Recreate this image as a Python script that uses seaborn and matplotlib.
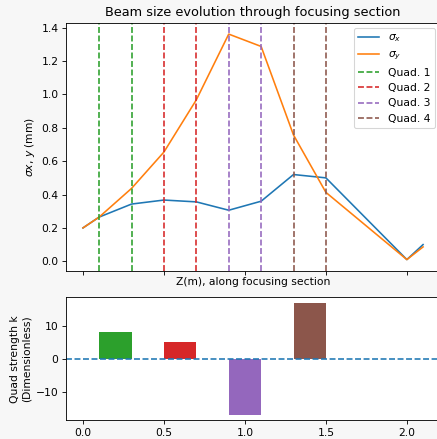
import numpy as np
import pandas as pd
import matplotlib
matplotlib.use("Agg")
import matplotlib.pyplot as plt
import seaborn as sns

# Data
z = [0.0, 0.1, 0.3, 0.5, 0.7, 0.9, 1.1, 1.3, 1.5, 2.0, 2.1]
sigma_x = [0.20, 0.265, 0.343, 0.367, 0.356, 0.306, 0.360, 0.520, 0.500, 0.010, 0.100]
sigma_y = [0.20, 0.265, 0.437, 0.655, 0.968, 1.362, 1.288, 0.757, 0.413, 0.010, 0.086]
quad_names = ["Quad. 1", "Quad. 2", "Quad. 3", "Quad. 4"]
quad_start = [0.1, 0.5, 0.9, 1.3]
quad_end = [0.3, 0.7, 1.1, 1.5]
quad_k = [8.0, 5.0, -16.7, 16.8]
quad_colors = ["tab:green", "tab:red", "tab:purple", "tab:brown"]

DPI = 77
fig = plt.figure(figsize=(437 / DPI, 439 / DPI), dpi=DPI, facecolor="#f7f7f7")
ax1 = fig.add_axes([0.151, 0.383, 0.856, 0.565])
ax2 = fig.add_axes([0.151, 0.0424, 0.856, 0.2806], sharex=ax1)

df = pd.DataFrame({"z": z, "sx": sigma_x, "sy": sigma_y})
sns.lineplot(data=df, x="z", y="sx", ax=ax1, color="C0", label=r"$\sigma_x$")
sns.lineplot(data=df, x="z", y="sy", ax=ax1, color="C1", label=r"$\sigma_y$")
for name, s, e, c in zip(quad_names, quad_start, quad_end, quad_colors):
    ax1.axvline(s, color=c, linestyle="--", label=name)
    ax1.axvline(e, color=c, linestyle="--")
ax1.legend(loc="upper right")
ax1.set_title("Beam size evolution through focusing section")
ax1.set_ylabel(r"$\sigma x$, $y$ (mm)")
ax1.set_xlabel("Z(m), along focusing section")
ax1.tick_params(axis="x", labelbottom=False)
ax1.xaxis.labelpad = 2

centers = [(s + e) / 2 for s, e in zip(quad_start, quad_end)]
widths = [e - s for s, e in zip(quad_start, quad_end)]
ax2.bar(centers, quad_k, width=widths, color=quad_colors)
ax2.axhline(0, color="C0", linestyle="--")
ax2.set_ylabel("Quad strength k\n(Dimensionless)")
ax2.set_xticks([0.0, 0.5, 1.0, 1.5, 2.0])
ax1.set_xlim(-0.105, 2.205)

fig.savefig("out.png", dpi=DPI, facecolor=fig.get_facecolor())
